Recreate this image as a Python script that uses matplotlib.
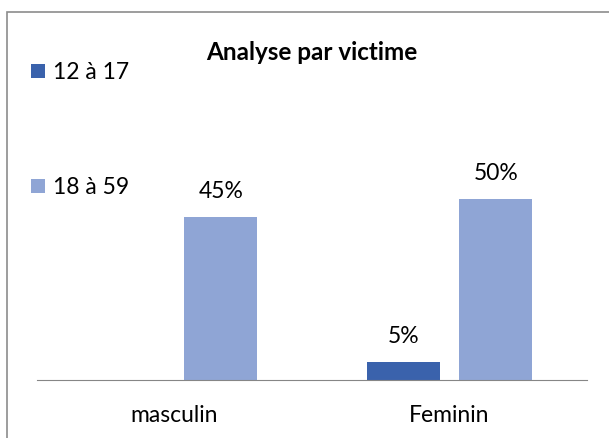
import matplotlib
matplotlib.use('Agg')
import matplotlib.pyplot as plt
from matplotlib.patches import Rectangle
import numpy as np

# ── Données ───────────────────────────────────────────────────────────────────
categories = ['masculin', 'Feminin']
series_names = ['12 à 17', '18 à 59']
age_12_17 = [0, 5]
age_18_59 = [45, 50]
colors = ['#3A62AC', '#8FA5D5']

plt.rcParams['font.family'] = ['Lato', 'DejaVu Sans']
FS = 16.5

W, H = 609, 438
fig = plt.figure(figsize=(W / 100, H / 100), dpi=100)

# cadre (gauche + haut visibles)
fig.patches.append(Rectangle((7 / W, -0.1), 1.2, 1 - 12 / H + 0.1,
                             transform=fig.transFigure, fill=False,
                             edgecolor='#8C8C8C', linewidth=1.2))

ax = fig.add_axes([37 / W, (H - 380) / H, 550 / W, 217 / H])

x = np.arange(len(categories))
w = 0.265
off = 0.168
b1 = ax.bar(x - off, age_12_17, w, color=colors[0], label=series_names[0])
b2 = ax.bar(x + off, age_18_59, w, color=colors[1], label=series_names[1])

for bars, vals in ((b1, age_12_17), (b2, age_18_59)):
    for bar, v in zip(bars, vals):
        if v == 0:
            continue
        ax.annotate(f'{v}%', xy=(bar.get_x() + bar.get_width() / 2, v),
                    xytext=(0, 11), textcoords='offset points',
                    ha='center', va='bottom', fontsize=FS)

ax.set_xlim(-0.5, 1.5)
ax.set_ylim(0, 60)
ax.set_yticks([])
ax.set_xticks(x)
ax.set_xticklabels(categories, fontsize=FS)
ax.tick_params(axis='x', length=0, pad=18)
for s in ['top', 'right', 'left']:
    ax.spines[s].set_visible(False)
ax.spines['bottom'].set_color('#868686')

fig.text(312 / W, 1 - 53 / H, 'Analyse par victime', ha='center', va='center',
         fontsize=17.5, fontweight='bold')

fig.legend(handles=[b1, b2], loc='upper left',
           bbox_to_anchor=(31 / W, 1 - 62 / H), frameon=False, fontsize=FS,
           handlelength=0.6, handleheight=0.6, handletextpad=0.35,
           labelspacing=4.1, borderpad=0, borderaxespad=0)

fig.savefig('out.png', dpi=100)
